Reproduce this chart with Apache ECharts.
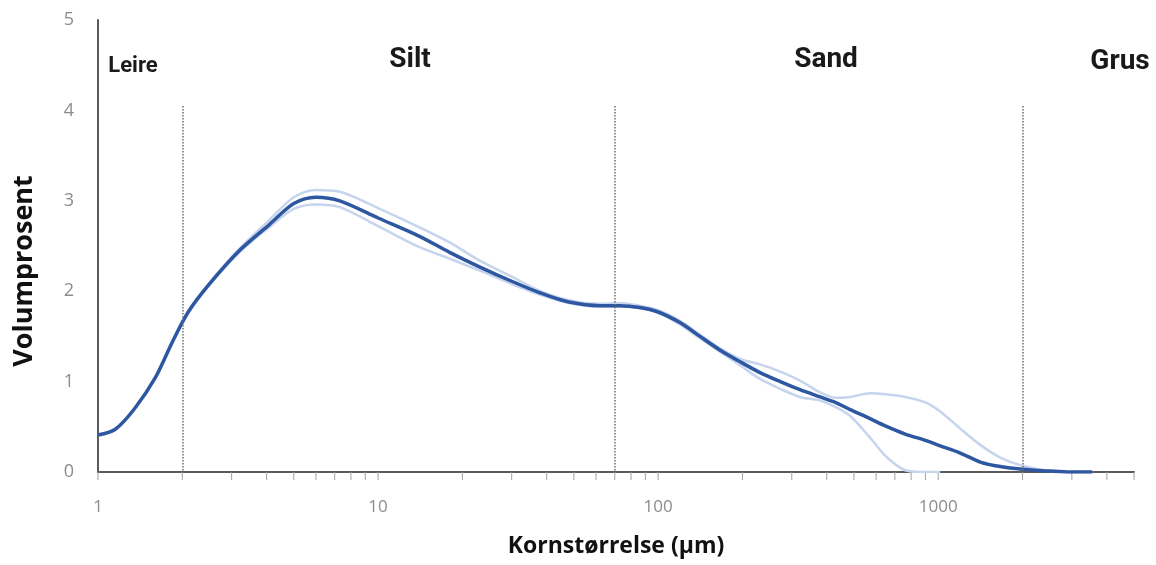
<!DOCTYPE html>
<html>
<head>
<meta charset="utf-8">
<script src="https://cdn.jsdelivr.net/npm/echarts@6/dist/echarts.min.js"></script>
<style>
html,body{margin:0;padding:0;background:#fff;}
#chart{width:1156px;height:565px;}
</style>
</head>
<body>
<div id="chart"></div>
<script>
// Grain size (µm)
const sizes = [1, 1.15, 1.35, 1.6, 1.85, 2.1, 2.5, 3.2, 4.1, 5, 6, 7.3, 10, 14, 18, 23, 30, 38, 48, 62, 73, 86, 100, 120, 141, 166, 196, 231, 273, 321, 379, 429, 485, 571, 647, 762, 899, 1016, 1199, 1413, 1665, 1995, 2512, 2960, 3550];
// Mean volume percent
const meanVol = [0.41, 0.47, 0.70, 1.04, 1.45, 1.77, 2.08, 2.45, 2.74, 2.97, 3.04, 3.00, 2.81, 2.61, 2.43, 2.27, 2.11, 1.98, 1.88, 1.84, 1.84, 1.82, 1.77, 1.65, 1.50, 1.35, 1.22, 1.10, 1.00, 0.91, 0.83, 0.77, 0.69, 0.59, 0.51, 0.42, 0.35, 0.29, 0.21, 0.11, 0.06, 0.03, 0.01, 0.0, 0.0];
// Individual samples
const sampleA = [0.41, 0.47, 0.70, 1.04, 1.45, 1.78, 2.09, 2.47, 2.79, 3.04, 3.12, 3.10, 2.92, 2.71, 2.54, 2.34, 2.16, 2.00, 1.90, 1.86, 1.87, 1.84, 1.79, 1.67, 1.52, 1.37, 1.25, 1.19, 1.11, 1.01, 0.88, 0.82, 0.83, 0.87, 0.86, 0.83, 0.77, 0.67, 0.48, 0.30, 0.16, 0.07, 0.01, 0.0, 0.0];
const sampleB = [0.41, 0.47, 0.70, 1.04, 1.44, 1.76, 2.07, 2.43, 2.71, 2.91, 2.96, 2.93, 2.72, 2.49, 2.36, 2.23, 2.08, 1.96, 1.87, 1.83, 1.83, 1.81, 1.76, 1.63, 1.48, 1.33, 1.18, 1.03, 0.92, 0.83, 0.79, 0.72, 0.62, 0.38, 0.18, 0.02, 0.0, 0.0];
// Class boundaries (µm)
const boundaries = [2, 70, 2000];
const boundaryTop = 4.05;
// Zone names
const zoneNames = ['Leire', 'Silt', 'Sand', 'Grus'];
// Axis tick labels and tick marks
const xTickLabels = [1, 10, 100, 1000];
const xTickMarks = [1, 2, 3, 4, 5, 6, 7, 8, 9, 10, 20, 30, 40, 50, 60, 70, 80, 90, 100, 200, 300, 400, 500, 600, 700, 800, 900, 1000, 2000, 3000, 4000, 5000];
const yTickLabels = [0, 1, 2, 3, 4, 5];

const pairs = (ys) => ys.map((y, i) => [sizes[i], y]);

const chart = echarts.init(document.getElementById('chart'), null, {renderer: 'canvas'});

const zoneStyle = [
  {x: 133, y: 66, size: 22},
  {x: 410, y: 60, size: 28},
  {x: 826, y: 60, size: 28},
  {x: 1120, y: 62, size: 28}
];

const option = {
  backgroundColor: '#fff',
  animation: false,
  grid: {left: 98, right: 22, top: 20, bottom: 93, containLabel: false},
  xAxis: {
    type: 'log', logBase: 10, min: 1, max: 5000,
    name: 'Kornstørrelse (µm)', nameLocation: 'middle', nameGap: 63,
    nameTextStyle: {fontFamily: 'Open Sans', fontWeight: 'bold', fontSize: 23, color: '#111'},
    axisLine: {show: true, lineStyle: {color: '#5a5a5a', width: 2}},
    axisTick: {show: false},
    splitLine: {show: false},
    axisLabel: {
      margin: 27, color: '#8c8c8c', fontFamily: 'Open Sans', fontSize: 17,
      showMaxLabel: false,
      formatter: (v) => xTickLabels.some(t => Math.abs(t - v) < 1e-6 * t) ? String(Math.round(v)) : ''
    }
  },
  yAxis: {
    type: 'value', min: 0, max: 5, interval: 1,
    axisLine: {show: true, lineStyle: {color: '#5a5a5a', width: 2}},
    axisTick: {show: false},
    splitLine: {show: false},
    axisLabel: {margin: 24, color: '#8c8c8c', fontFamily: 'Open Sans', fontSize: 18,
      formatter: (v) => yTickLabels.includes(v) ? String(v) : ''}
  },
  graphic: [
    {
      type: 'text', x: 24, y: 271, rotation: Math.PI / 2,
      style: {text: 'Volumprosent', fontFamily: 'Open Sans', fontWeight: 'bold', fontSize: 27,
        fill: '#111', textAlign: 'center', textVerticalAlign: 'middle'}
    }
  ].concat(zoneNames.map((n, i) => ({
    type: 'text', x: zoneStyle[i].x, y: zoneStyle[i].y,
    style: {text: n, fontFamily: 'Roboto', fontWeight: 'bold', fontSize: zoneStyle[i].size,
      fill: '#1a1a1a', textAlign: 'center', textVerticalAlign: 'middle'}
  }))),
  series: [
    {
      type: 'custom', silent: true, z: 1,
      data: xTickMarks.map(v => [v, 0]),
      renderItem: (params, api) => {
        const p = api.coord([api.value(0), 0]);
        return {type: 'line', shape: {x1: p[0], y1: p[1], x2: p[0], y2: p[1] + 8},
          style: {stroke: '#a0a0a0', lineWidth: 1}};
      }
    },
    {
      type: 'line', data: pairs(sampleA), smooth: 0.3, symbol: 'none', silent: true,
      lineStyle: {color: '#c6d4ee', width: 2.5}, z: 2
    },
    {
      type: 'line', data: pairs(sampleB), smooth: 0.3, symbol: 'none', silent: true,
      lineStyle: {color: '#c6d4ee', width: 2.5}, z: 2
    },
    {
      type: 'line', data: pairs(meanVol), smooth: 0.3, symbol: 'none', silent: true,
      lineStyle: {color: '#2d57a0', width: 3.5}, z: 4,
      markLine: {
        silent: true, symbol: 'none', label: {show: false},
        lineStyle: {color: '#6e6e6e', type: 'dotted', width: 1.5},
        data: boundaries.map(b => [{coord: [b, boundaryTop]}, {coord: [b, 0]}])
      }
    }
  ]
};
chart.setOption(option);
</script>
</body>
</html>
